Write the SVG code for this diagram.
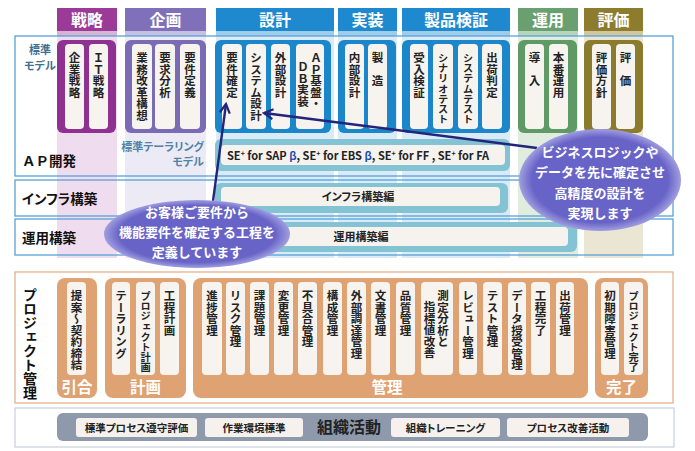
<svg xmlns="http://www.w3.org/2000/svg" width="695" height="451" viewBox="0 0 695 451">
<defs>
<style>
text{font-family:"Noto Sans CJK JP","Noto Sans",sans-serif;font-weight:bold}
.hd{font-size:16px;fill:#fff;text-anchor:middle}
.v{writing-mode:vertical-rl;font-size:11.5px;fill:#222}
.vs{font-size:10.2px}
.card{fill:#f7f3ee}
.box{fill:none;stroke:#58a2d8;stroke-width:1.3}
.lbl{font-size:13.5px;fill:#111}
.h{font-feature-settings:"palt"}
.bar{fill:#84c3d4}
.in{fill:#f6f2ee}
.t11{font-size:11px;fill:#222;text-anchor:middle}
.call{font-size:13px;fill:#fff;text-anchor:middle}
.og{fill:#dfa273}
.ol{font-size:15.5px;fill:#fff;text-anchor:middle}
.oc{fill:#f7f3ee}
.bc{fill:#f6f1ec}
.bt{font-size:10.5px;fill:#222;text-anchor:middle}
.conn{stroke:#23257a;stroke-width:2.4;fill:none;marker-end:url(#ah)}
</style>
<radialGradient id="eg" cx="50%" cy="50%" r="50%">
<stop offset="0.84" stop-color="#6864c7"/>
<stop offset="1" stop-color="#a09ee0"/>
</radialGradient>
<marker id="ah" viewBox="0 0 12 12" refX="10" refY="6" markerWidth="12" markerHeight="12" markerUnits="userSpaceOnUse" orient="auto">
<path d="M1,1 L10,6 L1,11" fill="none" stroke="#23257a" stroke-width="2.2"/>
</marker>
</defs>
<rect width="695" height="451" fill="#fff"/>

<!-- phase bands and headers -->
<g id="phase-senryaku">
<rect x="57" y="31" width="60" height="227" fill="#efdcee"/>
<rect x="57" y="8" width="60" height="24" fill="#9b3a97"/>
<rect x="57" y="31" width="60" height="5" fill="#d7b3d4"/>
<text class="hd" x="87" y="26">戦略</text>
</g>
<g id="phase-kikaku">
<rect x="125" y="31" width="81" height="227" fill="#eceaf5"/>
<rect x="125" y="8" width="81" height="24" fill="#7f70b9"/>
<rect x="125" y="31" width="81" height="5" fill="#c6c0e2"/>
<text class="hd" x="165.5" y="26">企画</text>
</g>
<g id="phase-sekkei">
<rect x="216" y="31" width="118" height="227" fill="#d8ebf6"/>
<rect x="216" y="8" width="118" height="24" fill="#1f89cf"/>
<rect x="216" y="31" width="118" height="5" fill="#9fcde9"/>
<text class="hd" x="275" y="26">設計</text>
</g>
<g id="phase-jisso">
<rect x="338" y="31" width="59" height="227" fill="#d8ebf6"/>
<rect x="338" y="8" width="59" height="24" fill="#1f89cf"/>
<rect x="338" y="31" width="59" height="5" fill="#9fcde9"/>
<text class="hd" x="367.5" y="26">実装</text>
</g>
<g id="phase-kensho">
<rect x="402" y="31" width="108" height="227" fill="#d8ebf6"/>
<rect x="402" y="8" width="108" height="24" fill="#1f89cf"/>
<rect x="402" y="31" width="108" height="5" fill="#9fcde9"/>
<text class="hd" x="456" y="26">製品検証</text>
</g>
<g id="phase-unyo">
<rect x="518" y="31" width="60" height="227" fill="#e0ecdd"/>
<rect x="518" y="8" width="60" height="24" fill="#6aa06f"/>
<rect x="518" y="31" width="60" height="5" fill="#b8d4b9"/>
<text class="hd" x="548" y="26">運用</text>
</g>
<g id="phase-hyoka">
<rect x="584" y="31" width="59" height="227" fill="#ebe6d3"/>
<rect x="584" y="8" width="59" height="24" fill="#8e7c2e"/>
<rect x="584" y="31" width="59" height="5" fill="#d0c79f"/>
<text class="hd" x="613.5" y="26">評価</text>
</g>

<!-- AP development row -->
<g id="row-ap">
<rect class="box" x="15" y="36" width="658" height="140"/>
<text class="lbl" x="22" y="166">ＡＰ開発</text>
<text x="40" y="54" font-size="11" fill="#3f6f93" text-anchor="middle">標準</text>
<text x="40" y="70" font-size="11" fill="#3f6f93" text-anchor="middle" class="h">モデル</text>
<text x="204" y="151" font-size="11" fill="#4e84a6" text-anchor="end" class="h">標準テーラリング</text>
<text x="204" y="166" font-size="11" fill="#4e84a6" text-anchor="end" class="h">モデル</text>
</g>

<g id="ap-senryaku">
<rect x="57" y="40" width="59" height="93" rx="6" fill="#8e3190"/>
<rect class="card" x="65" y="44" width="19" height="85" rx="4"/>
<rect class="card" x="89" y="44" width="19" height="85" rx="4"/>
<text class="v" x="74.5" y="52">企業戦略</text>
<text class="v" x="98.5" y="52">ＩＴ戦略</text>
</g>
<g id="ap-kikaku">
<rect x="125" y="40" width="81" height="93" rx="6" fill="#7a6cb4"/>
<rect class="card" x="132" y="44" width="20" height="85" rx="4"/>
<rect class="card" x="155" y="44" width="20" height="85" rx="4"/>
<rect class="card" x="180" y="44" width="20" height="85" rx="4"/>
<text class="v" x="142" y="52">業務改革構想</text>
<text class="v" x="165" y="52">要求分析</text>
<text class="v" x="190" y="52">要件定義</text>
</g>
<g id="ap-sekkei">
<rect x="215" y="40" width="116" height="93" rx="6" fill="#1b86c9"/>
<rect class="card" x="222" y="44" width="20" height="85" rx="4"/>
<rect class="card" x="246" y="44" width="20" height="85" rx="4"/>
<rect class="card" x="271" y="44" width="19" height="85" rx="4"/>
<rect class="card" x="296" y="44" width="28" height="85" rx="4"/>
<text class="v" x="232" y="52">要件確定</text>
<text class="v" x="256" y="52">システム設計</text>
<text class="v" x="280.5" y="52">外部設計</text>
<text class="v" x="316" y="52">ＡＰ基盤・</text>
<text class="v" x="303" y="61">ＤＢ実装</text>
</g>
<g id="ap-jisso">
<rect x="338" y="40" width="58" height="93" rx="6" fill="#1b86c9"/>
<rect class="card" x="345" y="44" width="19" height="85" rx="4"/>
<rect class="card" x="368" y="44" width="19" height="85" rx="4"/>
<text class="v" x="354.5" y="52">内部設計</text>
<text class="v" x="377.5" y="52">製　造</text>
</g>
<g id="ap-kensho">
<rect x="402" y="40" width="108" height="93" rx="6" fill="#1b86c9"/>
<rect class="card" x="410" y="44" width="18" height="85" rx="4"/>
<rect class="card" x="433" y="44" width="20" height="85" rx="4"/>
<rect class="card" x="458" y="44" width="20" height="85" rx="4"/>
<rect class="card" x="482" y="44" width="20" height="85" rx="4"/>
<text class="v" x="419" y="52">受入検証</text>
<text class="v vs" x="443" y="53">シナリオテスト</text>
<text class="v vs" x="468" y="53">システムテスト</text>
<text class="v" x="492" y="52">出荷判定</text>
</g>
<g id="ap-unyo">
<rect x="518" y="40" width="59" height="93" rx="6" fill="#5f9a66"/>
<rect class="card" x="525" y="44" width="19" height="85" rx="4"/>
<rect class="card" x="549" y="44" width="19" height="85" rx="4"/>
<text class="v" x="534.5" y="52">導　入</text>
<text class="v" x="558.5" y="52">本番運用</text>
</g>
<g id="ap-hyoka">
<rect x="584" y="40" width="59" height="93" rx="6" fill="#8b7b2c"/>
<rect class="card" x="592" y="44" width="19" height="85" rx="4"/>
<rect class="card" x="616" y="44" width="19" height="85" rx="4"/>
<text class="v" x="601.5" y="52">評価方針</text>
<text class="v" x="625.5" y="52">評　価</text>
</g>
<g id="ap-se">
<rect class="bar" x="215" y="139" width="295" height="32" rx="6"/>
<rect class="in" x="221" y="145" width="284" height="20" rx="4"/>
<text x="227" y="159.5" font-family="'Liberation Sans',sans-serif" font-size="11" fill="#222">SE<tspan font-size="7" dy="-4">+</tspan><tspan dy="4"> for SAP </tspan><tspan fill="#1f4fb0">β</tspan>, SE<tspan font-size="7" dy="-4">+</tspan><tspan dy="4"> for EBS </tspan><tspan fill="#1f4fb0">β</tspan>, SE<tspan font-size="7" dy="-4">+</tspan><tspan dy="4"> for FF , SE</tspan><tspan font-size="7" dy="-4">+</tspan><tspan dy="4"> for FA</tspan></text>
</g>

<!-- infra row -->
<g id="row-infra">
<rect class="box" x="15" y="180" width="658" height="36"/>
<text class="lbl h" x="22" y="204">インフラ構築</text>
<rect class="bar" x="215" y="183" width="293" height="30" rx="6"/>
<rect class="in" x="221" y="187" width="279" height="19" rx="4"/>
<text class="t11 h" x="358" y="200.5">インフラ構築編</text>
</g>

<!-- operation row -->
<g id="row-ops">
<rect class="box" x="15" y="219" width="658" height="36"/>
<text class="lbl" x="22" y="243">運用構築</text>
<rect class="bar" x="215" y="222" width="362" height="30" rx="6"/>
<rect class="in" x="221" y="227" width="347" height="19" rx="4"/>
<text class="t11" x="361" y="240.5">運用構築編</text>
</g>

<!-- project management -->
<g id="pm">
<rect x="15" y="272" width="658" height="131" fill="#fff" stroke="#e6b18b" stroke-width="1.3"/>
<text class="v" x="30" y="288" style="font-size:14px;fill:#111">プロジェクト管理</text>
</g>
<g id="pm-hikiai">
<rect class="og" x="57" y="278" width="40" height="120" rx="8"/>
<rect class="oc" x="67" y="282" width="19" height="93" rx="4"/>
<text class="v" x="76.5" y="290">提案〜契約締結</text>
<text class="ol" x="77" y="393">引合</text>
</g>
<g id="pm-keikaku">
<rect class="og" x="105" y="278" width="81" height="120" rx="8"/>
<rect class="oc" x="112" y="282" width="18" height="93" rx="4"/>
<rect class="oc" x="136" y="282" width="19" height="93" rx="4"/>
<rect class="oc" x="160" y="282" width="19" height="93" rx="4"/>
<text class="v" x="121" y="290">テーラリング</text>
<text class="v vs" x="145.5" y="291">プロジェクト計画</text>
<text class="v" x="169.5" y="290">工程計画</text>
<text class="ol" x="145.5" y="393">計画</text>
</g>
<g id="pm-kanri">
<rect class="og" x="193" y="278" width="395" height="120" rx="8"/>
<rect class="oc" x="202" y="282" width="20" height="93" rx="4"/>
<rect class="oc" x="226" y="282" width="19" height="93" rx="4"/>
<rect class="oc" x="250" y="282" width="19" height="93" rx="4"/>
<rect class="oc" x="274" y="282" width="19" height="93" rx="4"/>
<rect class="oc" x="298" y="282" width="19" height="93" rx="4"/>
<rect class="oc" x="323" y="282" width="19" height="93" rx="4"/>
<rect class="oc" x="347" y="282" width="19" height="93" rx="4"/>
<rect class="oc" x="371" y="282" width="19" height="93" rx="4"/>
<rect class="oc" x="396" y="282" width="19" height="93" rx="4"/>
<rect class="oc" x="421" y="282" width="32" height="93" rx="4"/>
<rect class="oc" x="459" y="282" width="18" height="93" rx="4"/>
<rect class="oc" x="483" y="282" width="19" height="93" rx="4"/>
<rect class="oc" x="508" y="282" width="18" height="93" rx="4"/>
<rect class="oc" x="531" y="282" width="19" height="93" rx="4"/>
<rect class="oc" x="556" y="282" width="18" height="93" rx="4"/>
<text class="v" x="212" y="290">進捗管理</text>
<text class="v" x="235.5" y="290">リスク管理</text>
<text class="v" x="259.5" y="290">課題管理</text>
<text class="v" x="283.5" y="290">変更管理</text>
<text class="v" x="307.5" y="290">不具合管理</text>
<text class="v" x="332.5" y="290">構成管理</text>
<text class="v" x="356.5" y="290">外部調達管理</text>
<text class="v" x="380.5" y="290">文書管理</text>
<text class="v" x="405.5" y="290">品質管理</text>
<text class="v" x="443" y="290">測定分析と</text>
<text class="v" x="429.5" y="301">指標値改善</text>
<text class="v" x="468" y="290">レビュー管理</text>
<text class="v" x="492.5" y="290">テスト管理</text>
<text class="v" x="517" y="290">データ授受管理</text>
<text class="v" x="540.5" y="290">工程完了</text>
<text class="v" x="565" y="290">出荷管理</text>
<text class="ol" x="387" y="393">管理</text>
</g>
<g id="pm-kanryo">
<rect class="og" x="595" y="278" width="53" height="120" rx="8"/>
<rect class="oc" x="601" y="282" width="18" height="93" rx="4"/>
<rect class="oc" x="624" y="282" width="19" height="93" rx="4"/>
<text class="v" x="610" y="290">初期障害管理</text>
<text class="v vs" x="633.5" y="291">プロジェクト完了</text>
<text class="ol" x="621.5" y="393">完了</text>
</g>

<!-- organisation activities -->
<g id="org">
<rect x="15" y="408" width="659" height="39" fill="#fff" stroke="#c8d0da" stroke-width="1.2"/>
<rect x="57" y="413" width="591" height="28" rx="6" fill="#8e9aab"/>
<rect class="bc" x="76" y="418" width="121" height="19" rx="3"/>
<rect class="bc" x="205" y="418" width="98" height="19" rx="3"/>
<rect class="bc" x="391" y="418" width="109" height="19" rx="3"/>
<rect class="bc" x="507" y="418" width="122" height="19" rx="3"/>
<text class="bt h" x="136.5" y="431.5">標準プロセス遵守評価</text>
<text class="bt h" x="254" y="431.5">作業環境標準</text>
<text x="349" y="433" font-size="16" font-weight="normal" fill="#222" text-anchor="middle">組織活動</text>
<text class="bt h" x="445.5" y="431.5">組織トレーニング</text>
<text class="bt h" x="568" y="431.5">プロセス改善活動</text>
</g>

<!-- connectors -->
<g id="connectors">
<line class="conn" x1="213" y1="201" x2="226" y2="104"/>
<line class="conn" x1="537" y1="148" x2="264" y2="113"/>
</g>

<!-- callouts -->
<g id="callout-left">
<ellipse cx="197" cy="234" rx="93" ry="34" fill="url(#eg)"/>
<text class="call" x="197" y="217">お客様ご要件から</text>
<text class="call" x="197" y="237">機能要件を確定する工程を</text>
<text class="call" x="197" y="257">定義しています</text>
</g>
<g id="callout-right">
<ellipse cx="600" cy="180" rx="81" ry="51" fill="url(#eg)"/>
<text class="call" x="600" y="157">ビジネスロジックや</text>
<text class="call" x="600" y="177">データを先に確定させ</text>
<text class="call" x="600" y="198">高精度の設計を</text>
<text class="call" x="600" y="218">実現します</text>
</g>
</svg>
